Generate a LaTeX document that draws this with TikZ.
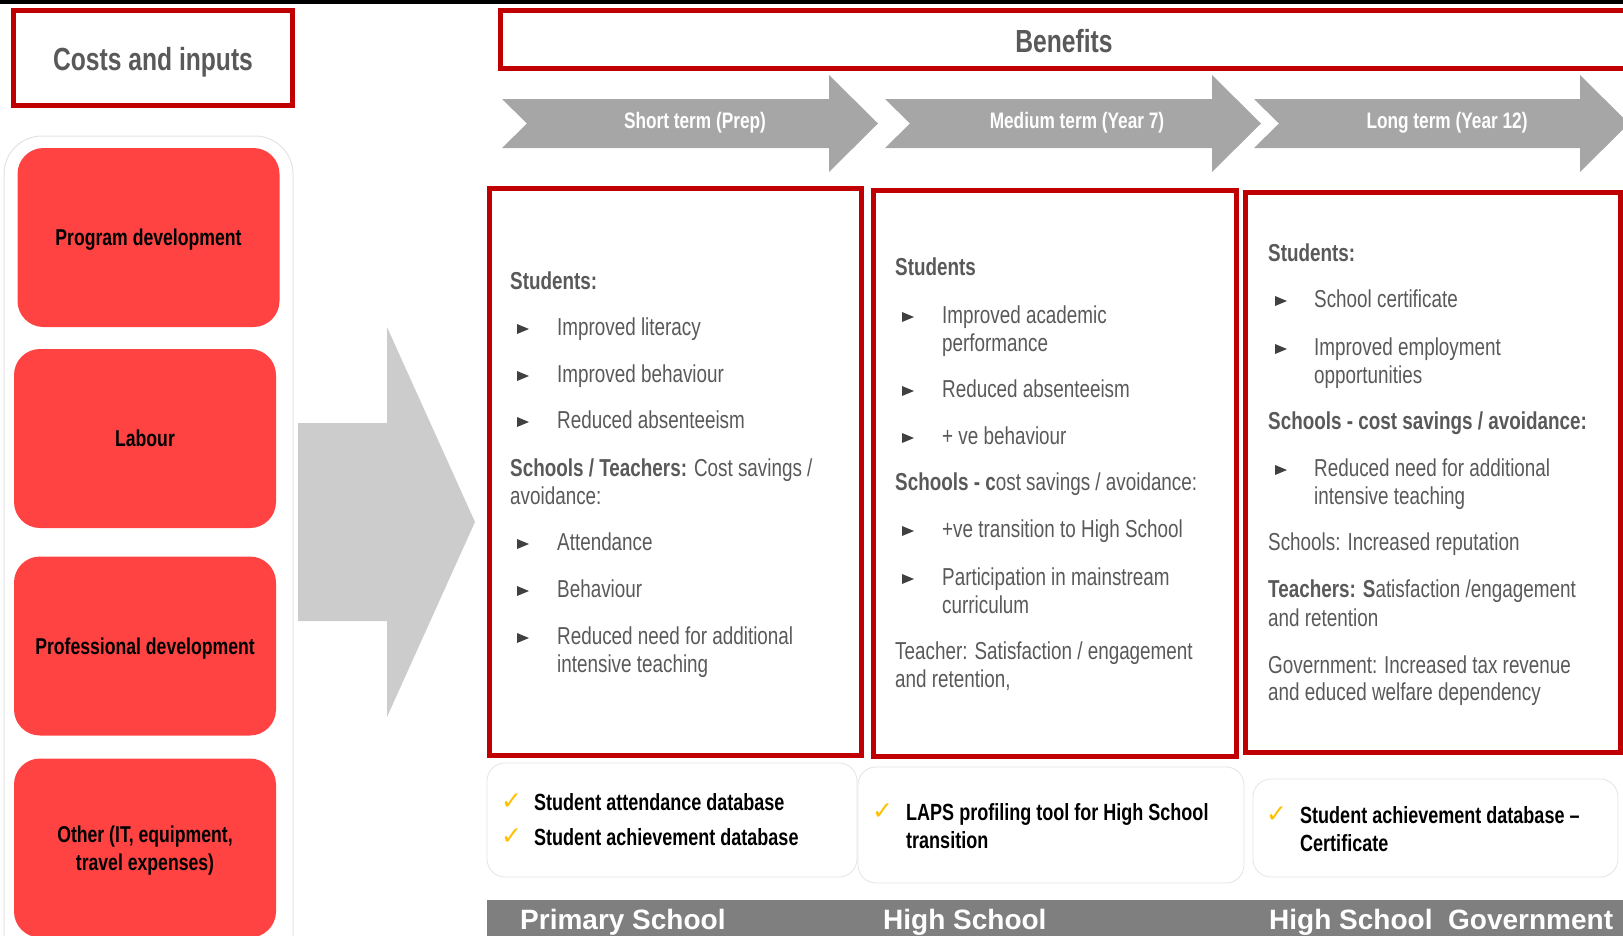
\documentclass[tikz,border=0pt]{standalone}
\usepackage{fontspec}
\setmainfont{Liberation Sans}[FakeStretch=0.77]
\newfontfamily\widefont{Liberation Sans}
\newfontfamily\symfont{DejaVu Sans}

\definecolor{framered}{HTML}{C00000}
\definecolor{costred}{HTML}{FF4343}
\definecolor{textgray}{HTML}{595959}
\definecolor{chevgray}{HTML}{A6A6A6}
\definecolor{arrowgray}{HTML}{CCCCCC}
\definecolor{bargray}{HTML}{7F7F7F}
\definecolor{panelline}{HTML}{E3E3E3}
\definecolor{tickyellow}{HTML}{FFC000}
\definecolor{bulletgray}{HTML}{404040}

\tikzset{
  redframe/.style={draw=framered, line width=5pt},
  costbox/.style={fill=costred, rounded corners=26pt, minimum width=262pt, minimum height=179pt, align=center, inner sep=0, text depth=0pt, font=\fontsize{22.9}{28}\selectfont\bfseries},
  body/.style={anchor=base west, inner sep=0, text=textgray, font=\fontsize{24.5}{28}\selectfont},
  dbbox/.style={draw=panelline, line width=0.8pt, rounded corners=18pt},
  dbtext/.style={anchor=base west, inner sep=0, font=\fontsize{23.4}{28}\selectfont\bfseries},
  tick/.style={anchor=base west, inner sep=0, text=tickyellow, font=\symfont\fontsize{25}{25}\selectfont},
  termlabel/.style={text=white, font=\fontsize{22.4}{26}\selectfont\bfseries},
  heading/.style={text=textgray, font=\fontsize{32}{38}\selectfont\bfseries},
  school/.style={anchor=base west, inner sep=0, text=white, font=\widefont\fontsize{28}{32}\selectfont\bfseries},
}

\begin{document}
\begin{tikzpicture}[x=1pt, y=-1pt]
\useasboundingbox (0,0) rectangle (1623,935);
\fill[black] (0,0) rectangle (1623,4);

\draw[redframe] (13.5,10.5) rectangle (292.5,105.5);
\node[heading] (costs) at (153,62) {Costs and inputs};

\draw[panelline, line width=1pt, rounded corners=38pt] (4,136) rectangle (293,975);
\node[costbox] (prog) at (148.5,237.5) {Program development};
\node[costbox] (labour) at (145,438.5) {Labour};
\node[costbox] (prof) at (145,646) {Professional development};
\node[costbox] (other) at (145,848) {Other (IT, equipment,\\travel expenses)};

\fill[arrowgray] (298,423) -- (387,423) -- (387,327) -- (475,522) -- (387,717) -- (387,621) -- (298,621) -- cycle;

\draw[redframe] (500.5,10.5) rectangle (1640,68.5);
\node[heading] (benefits) at (1064,41) {Benefits};

\foreach \l/\h/\c/\lbl [count=\i] in {502/829/695/{Short term (Prep)}, 885/1212/1077/{Medium term (Year 7)}, 1254/1580/1447/{Long term (Year 12)}} {
  \fill[chevgray] (\l,99) -- (\h,99) -- (\h,75) -- (\h+49,123.5) -- (\h,172) -- (\h,148) -- (\l,148) -- (\l+25,123.5) -- cycle;
  \node[termlabel] (term\i) at (\c,123) {\lbl};
}

\draw[redframe] (489.5,188.5) rectangle (861.5,755.5);
\draw[redframe] (873.5,190.5) rectangle (1236.5,756.5);
\draw[redframe] (1245.5,192.5) rectangle (1620.5,752.5);

\foreach \x/\y/\s [count=\i] in {510/289/{\textbf{Students:}}, 557/335/{Improved literacy}, 557/382/{Improved behaviour}, 557/428/{Reduced absenteeism}, 510/476/{\textbf{Schools / Teachers:} Cost savings /}, 510/504/{avoidance:}, 557/550/{Attendance}, 557/597/{Behaviour}, 557/644/{Reduced need for additional}, 557/672/{intensive teaching}}
  \node[body] (short\i) at (\x,\y) {\s};

\foreach \x/\y/\s [count=\i] in {895/275/{\textbf{Students}}, 942/323/{Improved academic}, 942/351/{performance}, 942/397/{Reduced absenteeism}, 942/444/{+ ve behaviour}, 895/490/{\textbf{Schools - c}ost savings / avoidance:}, 942/537/{+ve transition to High School}, 942/585/{Participation in mainstream}, 942/613/{curriculum}, 895/659/{Teacher: Satisfaction / engagement}, 895/687/{and retention,}}
  \node[body] (medium\i) at (\x,\y) {\s};

\foreach \x/\y/\s [count=\i] in {1268/261/{\textbf{Students:}}, 1314/307/{School certificate}, 1314/355/{Improved employment}, 1314/383/{opportunities}, 1268/429/{\textbf{Schools - cost savings / avoidance:}}, 1314/476/{Reduced need for additional}, 1314/504/{intensive teaching}, 1268/550/{Schools: Increased reputation}, 1268/597/{\textbf{Teachers: S}atisfaction /engagement}, 1268/626/{and retention}, 1268/673/{Government: Increased tax revenue}, 1268/700/{and educed welfare dependency}}
  \node[body] (long\i) at (\x,\y) {\s};

\foreach \x/\y in {517/335, 517/382, 517/428, 517/550, 517/597, 517/644, 902/323, 902/397, 902/444, 902/537, 902/585, 1275/307, 1275/355, 1275/476}
  \fill[bulletgray] (\x,\y-11) -- (\x+12,\y-6) -- (\x,\y-1) -- cycle;

\node[dbbox, minimum width=370pt, minimum height=114pt] (db1) at (672,820) {};
\node[dbbox, minimum width=386pt, minimum height=116pt] (db2) at (1051,825) {};
\node[dbbox, minimum width=365pt, minimum height=98pt] (db3) at (1435.5,828) {};

\node[tick] (tick1) at (501,809) {✓};
\node[tick] (tick2) at (501,844) {✓};
\node[tick] (tick3) at (872,819) {✓};
\node[tick] (tick4) at (1266,822) {✓};
\node[dbtext] (dbline1) at (534,810) {Student attendance database};
\node[dbtext] (dbline2) at (534,845) {Student achievement database};
\node[dbtext] (dbline3) at (906,820) {LAPS profiling tool for High School};
\node[dbtext] (dbline4) at (906,848) {transition};
\node[dbtext] (dbline5) at (1300,823) {Student achievement database –};
\node[dbtext] (dbline6) at (1300,851) {Certificate};

\fill[bargray] (487,900) rectangle (1623,940);
\node[school] (primary) at (520,929) {Primary School};
\node[school] (high1) at (883,929) {High School};
\node[school] (high2) at (1269,929) {High School};
\node[school] (govt) at (1448,929) {Government};
\end{tikzpicture}
\end{document}
